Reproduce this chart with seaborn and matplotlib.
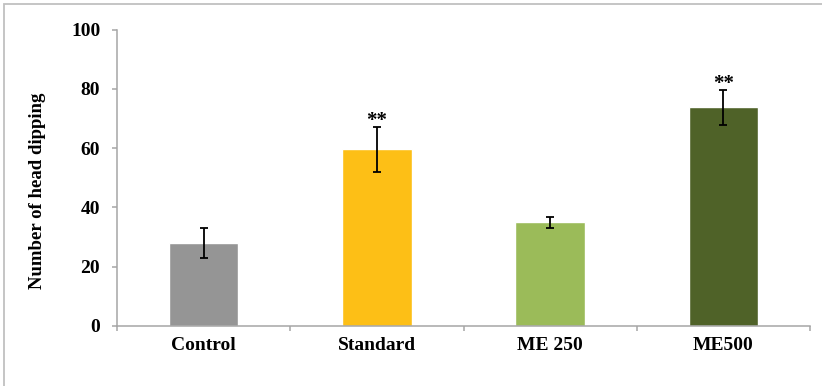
import matplotlib
matplotlib.use("Agg")
import matplotlib.pyplot as plt
from matplotlib.patches import Rectangle
from matplotlib.ticker import FixedLocator
import seaborn as sns
import pandas as pd

# Head dipping counts per treatment group (mean and spread)
groups = ["Control", "Standard", "ME 250", "ME500"]
means = [28.0, 59.6, 35.0, 73.8]
errors = [5.0, 7.6, 1.8, 6.0]
markers = ["", "**", "", "**"]
bar_colors = ["#959595", "#FDBF16", "#9BBB59", "#4F6228"]
y_ticks = [0, 20, 40, 60, 80, 100]

sns.set_theme(style="white")
plt.rcParams["font.family"] = ["Liberation Serif", "DejaVu Serif"]

df = pd.DataFrame({"group": groups, "count": means})

fig = plt.figure(figsize=(8.22, 3.86), dpi=100)
ax = fig.add_axes([117 / 822, 1 - 326 / 386, (810 - 117) / 822, (326 - 29.7) / 386])

sns.barplot(data=df, x="group", y="count", hue="group", palette=bar_colors,
            width=0.4, legend=False, ax=ax, saturation=1, errorbar=None)

ax.errorbar(range(len(groups)), means, yerr=errors, fmt="none",
            ecolor="black", elinewidth=1.3, capsize=3.2, capthick=1.3, zorder=3)

for i, (m, e, s) in enumerate(zip(means, errors, markers)):
    if s:
        ax.annotate(s, xy=(i, m + e), xytext=(0, 0.5), textcoords="offset points",
                    ha="center", va="baseline", fontsize=15, fontweight="bold",
                    color="black")

ax.set_xlim(-0.5, len(groups) - 0.5)
ax.set_ylim(0, 100)
ax.set_yticks(y_ticks)
ax.set_yticklabels([str(v) for v in y_ticks], fontsize=14, fontweight="bold")
ax.set_xticklabels(groups, fontsize=14, fontweight="bold")
ax.xaxis.set_minor_locator(FixedLocator([i - 0.5 for i in range(len(groups) + 1)]))

spine_color = "#a6a6a6"
for side in ["top", "right"]:
    ax.spines[side].set_visible(False)
for side in ["left", "bottom"]:
    ax.spines[side].set_color(spine_color)
    ax.spines[side].set_linewidth(1.1)

ax.tick_params(axis="y", which="major", left=True, length=3.6, width=1.1,
               color=spine_color, pad=8.5, labelcolor="black")
ax.tick_params(axis="x", which="major", bottom=False, length=0, pad=8,
               labelcolor="black")
ax.tick_params(axis="x", which="minor", bottom=True, length=3.6, width=1.1,
               color=spine_color)

ax.set_xlabel("")
ax.set_ylabel("Number of head dipping", fontsize=13.5, fontweight="bold",
              color="black")
ax.yaxis.label.set_transform(fig.transFigure)
ax.yaxis.label.set_position((38 / 822, 1 - 191 / 386))
ax.yaxis.label.set_va("center")
ax.yaxis.set_label_coords(38 / 822, 1 - 191 / 386, transform=fig.transFigure)

# Thin grey frame around the chart area
fig.patches.append(Rectangle((4 / 822, -0.1), 1.2, 1.1 - 4 / 386,
                             transform=fig.transFigure, fill=False,
                             edgecolor="#c0c0c0", linewidth=1.3))

fig.savefig("out.png", dpi=100)
